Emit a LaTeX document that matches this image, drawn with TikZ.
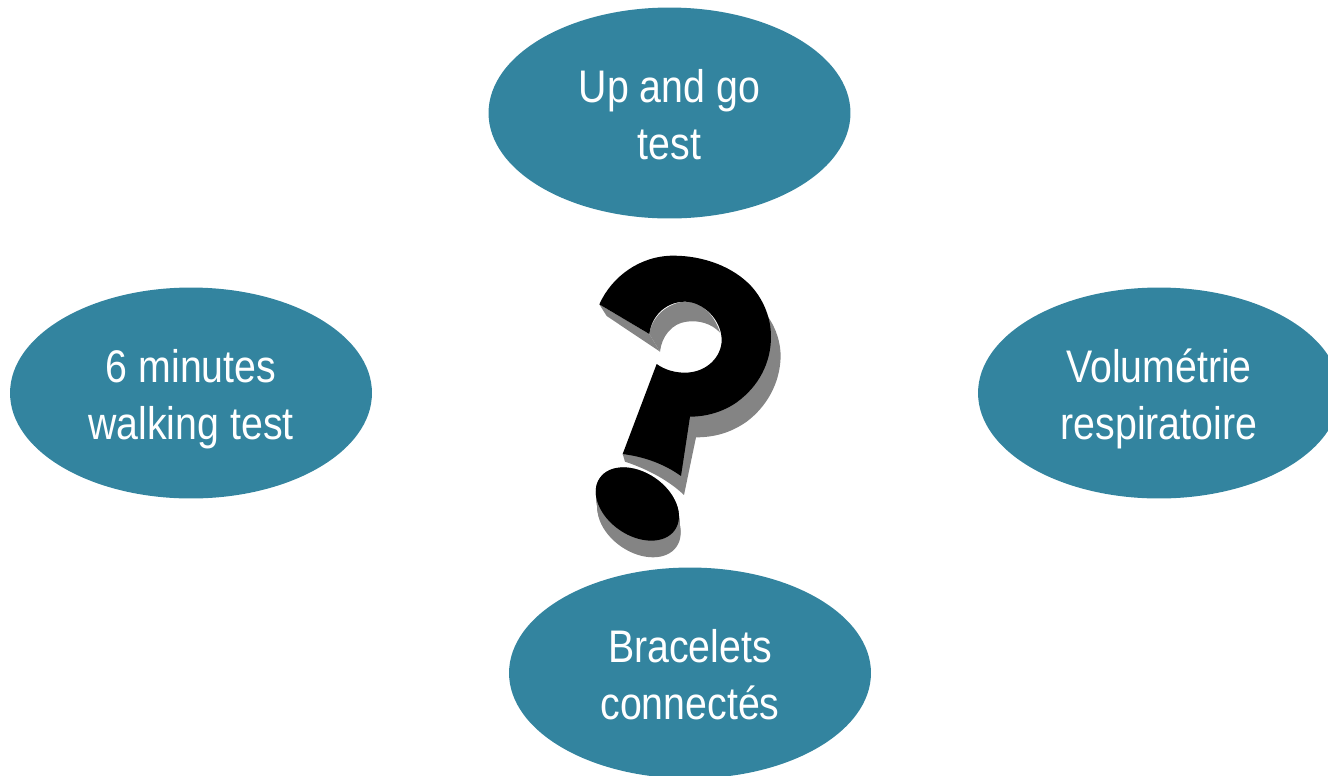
\documentclass[tikz,border=0pt]{standalone}
\usepackage{fontspec}
\setmainfont[FakeStretch=0.86]{Liberation Sans}
\usetikzlibrary{shapes.geometric}
\definecolor{petrol}{HTML}{33849F}
\definecolor{extrude}{HTML}{848484}
\tikzset{
  testnode/.style={ellipse,fill=petrol,inner sep=0pt,minimum width=7.24cm,minimum height=4.22cm},
  testlabel/.style={text=white,inner sep=0pt,align=center,font=\fontsize{26}{32.4}\selectfont}
}
\begin{document}
\begin{tikzpicture}[x=0.02cm,y=-0.02cm]
\useasboundingbox (0,0) rectangle (1328,775);
% bubbles
\node[testnode] (upgo) at (669.5,113) {};
\node[testnode] (walk) at (191,393) {};
\node[testnode] (volume) at (1159,393) {};
\node[testnode] (bracelet) at (690,673) {};
\node[testlabel,yshift=-0.04cm] (upgotext) at (upgo) {Up and go\\test};
\node[testlabel,yshift=-0.12cm] (walktext) at (walk) {6 minutes\\walking test};
\node[testlabel,yshift=-0.12cm] (volumetext) at (volume) {Volumétrie\\respiratoire};
\node[testlabel,yshift=-0.04cm] (bracelettext) at (bracelet) {Bracelets\\connectés};
% question mark
\begin{scope}[shift={(570,240)},x=0.00667cm,y=-0.00667cm]
\fill[extrude] (88,193)--(110,228)--(270,335)--(238,282)--cycle;
\fill[extrude] (238,282) .. controls (250,210) and (320,180) .. (360,185) .. controls (400,190) and (435,230) .. (450,278) .. controls (425,250) and (385,240) .. (350,245) .. controls (305,250) and (275,290) .. (270,335)--cycle;
\fill[extrude] (590,225) .. controls (620,265) and (632,310) .. (632,350) .. controls (630,430) and (590,500) .. (530,545) .. controls (480,580) and (430,592) .. (378,592)--(342,765) .. controls (300,725) and (240,690) .. (165,665)--(158,642)--(333,650)--(360,500)--cycle;
\foreach \k in {0,...,10}
  \fill[extrude,rotate around={-34.6:(202+\k*0.5,792+\k*5)}] (202+\k*0.5,792+\k*5) ellipse (137 and 94.4);
\fill[black] (88,193) .. controls (125,110) and (210,47) .. (310,47) .. controls (400,47) and (490,80) .. (545,140) .. controls (585,185) and (603,240) .. (603,290) .. controls (603,370) and (565,440) .. (500,487) .. controls (460,515) and (410,530) .. (360,530)--(333,708) .. controls (280,670) and (220,650) .. (158,642)--(260,372) .. controls (285,390) and (315,398) .. (345,398) .. controls (410,398) and (455,350) .. (455,300) .. controls (455,240) and (400,185) .. (345,185) .. controls (290,185) and (245,225) .. (238,282)--cycle;
\fill[black,rotate around={-34.6:(202,792)}] (202,792) ellipse (137 and 94.4);
\end{scope}
\end{tikzpicture}
\end{document}
